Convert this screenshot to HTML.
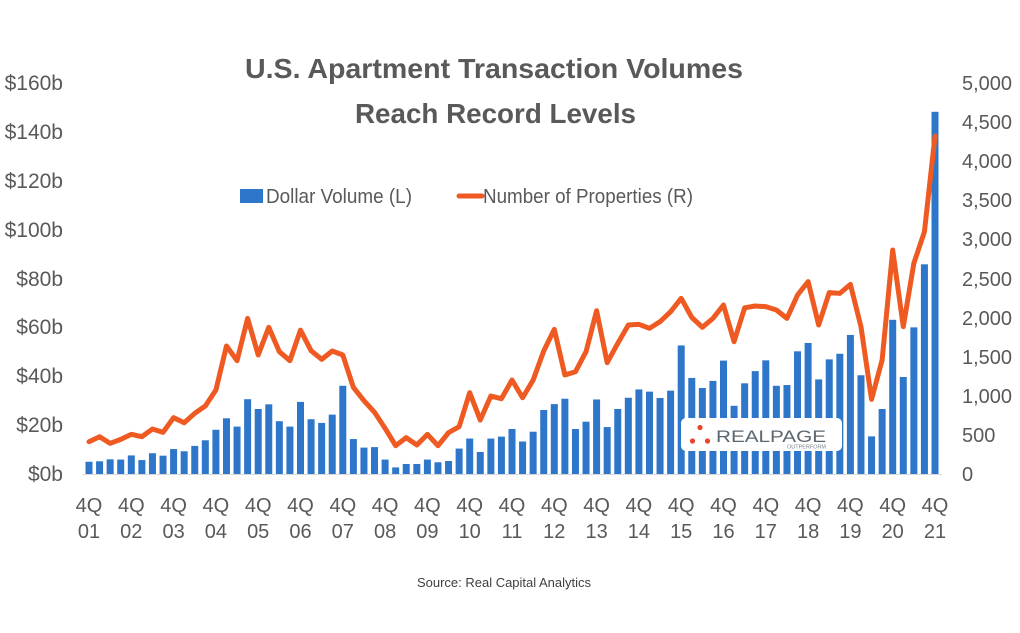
<!DOCTYPE html>
<html>
<head>
<meta charset="utf-8">
<style>
  html,body{margin:0;padding:0;background:#ffffff;}
  svg{display:block;}
  text{font-family:"Liberation Sans", Arial, sans-serif;}
</style>
</head>
<body>
<svg width="1020" height="633" viewBox="0 0 1020 633" xmlns="http://www.w3.org/2000/svg">
  <rect x="0" y="0" width="1020" height="633" fill="#ffffff"/>

  <!-- Title -->
  <text x="494" y="78" text-anchor="middle" font-size="28" font-weight="bold" fill="#595959" textLength="498" lengthAdjust="spacingAndGlyphs">U.S. Apartment Transaction Volumes</text>
  <text x="495.5" y="123" text-anchor="middle" font-size="28" font-weight="bold" fill="#595959" textLength="281" lengthAdjust="spacingAndGlyphs">Reach Record Levels</text>

  <!-- Legend -->
  <rect x="240" y="189" width="23" height="14" fill="#2E76C9"/>
  <text x="266" y="203" font-size="20" fill="#595959" textLength="146" lengthAdjust="spacingAndGlyphs">Dollar Volume (L)</text>
  <line x1="459" y1="196" x2="482" y2="196" stroke="#EE5A22" stroke-width="5" stroke-linecap="round"/>
  <text x="483" y="203" font-size="20" fill="#595959" textLength="210" lengthAdjust="spacingAndGlyphs">Number of Properties (R)</text>

  <!-- Left axis labels -->
  <g font-size="21" fill="#595959" text-anchor="end">
    <text x="63" y="481">$0b</text>
    <text x="63" y="432">$20b</text>
    <text x="63" y="383">$40b</text>
    <text x="63" y="334">$60b</text>
    <text x="63" y="286">$80b</text>
    <text x="63" y="237">$100b</text>
    <text x="63" y="188">$120b</text>
    <text x="63" y="139">$140b</text>
    <text x="63" y="90">$160b</text>
  </g>

  <!-- Right axis labels -->
  <g font-size="20" fill="#595959" text-anchor="start">
    <text x="962" y="481">0</text>
    <text x="962" y="442">500</text>
    <text x="962" y="403">1,000</text>
    <text x="962" y="364">1,500</text>
    <text x="962" y="325">2,000</text>
    <text x="962" y="286">2,500</text>
    <text x="962" y="246">3,000</text>
    <text x="962" y="207">3,500</text>
    <text x="962" y="168">4,000</text>
    <text x="962" y="129">4,500</text>
    <text x="962" y="90">5,000</text>
  </g>

  <!-- Bars -->
  <g transform="translate(89,474) scale(10.575,-2.444)" fill="#2E76C9">
    <rect x="-0.331" y="0" width="0.662" height="5.0"/>
    <rect x="0.669" y="0" width="0.662" height="5.2"/>
    <rect x="1.669" y="0" width="0.662" height="6.0"/>
    <rect x="2.669" y="0" width="0.662" height="5.9"/>
    <rect x="3.669" y="0" width="0.662" height="7.6"/>
    <rect x="4.669" y="0" width="0.662" height="5.7"/>
    <rect x="5.669" y="0" width="0.662" height="8.5"/>
    <rect x="6.669" y="0" width="0.662" height="7.5"/>
    <rect x="7.669" y="0" width="0.662" height="10.2"/>
    <rect x="8.669" y="0" width="0.662" height="9.3"/>
    <rect x="9.669" y="0" width="0.662" height="11.5"/>
    <rect x="10.669" y="0" width="0.662" height="13.8"/>
    <rect x="11.669" y="0" width="0.662" height="18.1"/>
    <rect x="12.669" y="0" width="0.662" height="22.8"/>
    <rect x="13.669" y="0" width="0.662" height="19.4"/>
    <rect x="14.669" y="0" width="0.662" height="30.6"/>
    <rect x="15.669" y="0" width="0.662" height="26.6"/>
    <rect x="16.669" y="0" width="0.662" height="28.5"/>
    <rect x="17.669" y="0" width="0.662" height="21.6"/>
    <rect x="18.669" y="0" width="0.662" height="19.4"/>
    <rect x="19.669" y="0" width="0.662" height="29.5"/>
    <rect x="20.669" y="0" width="0.662" height="22.4"/>
    <rect x="21.669" y="0" width="0.662" height="20.9"/>
    <rect x="22.669" y="0" width="0.662" height="24.3"/>
    <rect x="23.669" y="0" width="0.662" height="36.1"/>
    <rect x="24.669" y="0" width="0.662" height="14.3"/>
    <rect x="25.669" y="0" width="0.662" height="10.8"/>
    <rect x="26.669" y="0" width="0.662" height="11.0"/>
    <rect x="27.669" y="0" width="0.662" height="5.9"/>
    <rect x="28.669" y="0" width="0.662" height="2.7"/>
    <rect x="29.669" y="0" width="0.662" height="4.1"/>
    <rect x="30.669" y="0" width="0.662" height="4.1"/>
    <rect x="31.669" y="0" width="0.662" height="5.9"/>
    <rect x="32.669" y="0" width="0.662" height="4.8"/>
    <rect x="33.669" y="0" width="0.662" height="5.3"/>
    <rect x="34.669" y="0" width="0.662" height="10.4"/>
    <rect x="35.669" y="0" width="0.662" height="14.5"/>
    <rect x="36.669" y="0" width="0.662" height="9.0"/>
    <rect x="37.669" y="0" width="0.662" height="14.5"/>
    <rect x="38.669" y="0" width="0.662" height="15.3"/>
    <rect x="39.669" y="0" width="0.662" height="18.4"/>
    <rect x="40.669" y="0" width="0.662" height="13.3"/>
    <rect x="41.669" y="0" width="0.662" height="17.3"/>
    <rect x="42.669" y="0" width="0.662" height="26.2"/>
    <rect x="43.669" y="0" width="0.662" height="28.6"/>
    <rect x="44.669" y="0" width="0.662" height="30.8"/>
    <rect x="45.669" y="0" width="0.662" height="18.4"/>
    <rect x="46.669" y="0" width="0.662" height="21.4"/>
    <rect x="47.669" y="0" width="0.662" height="30.5"/>
    <rect x="48.669" y="0" width="0.662" height="19.2"/>
    <rect x="49.669" y="0" width="0.662" height="26.6"/>
    <rect x="50.669" y="0" width="0.662" height="31.2"/>
    <rect x="51.669" y="0" width="0.662" height="34.6"/>
    <rect x="52.669" y="0" width="0.662" height="33.7"/>
    <rect x="53.669" y="0" width="0.662" height="31.1"/>
    <rect x="54.669" y="0" width="0.662" height="34.1"/>
    <rect x="55.669" y="0" width="0.662" height="52.6"/>
    <rect x="56.669" y="0" width="0.662" height="39.3"/>
    <rect x="57.669" y="0" width="0.662" height="35.2"/>
    <rect x="58.669" y="0" width="0.662" height="38.1"/>
    <rect x="59.669" y="0" width="0.662" height="46.4"/>
    <rect x="60.669" y="0" width="0.662" height="27.9"/>
    <rect x="61.669" y="0" width="0.662" height="37.1"/>
    <rect x="62.669" y="0" width="0.662" height="42.1"/>
    <rect x="63.669" y="0" width="0.662" height="46.5"/>
    <rect x="64.669" y="0" width="0.662" height="36.1"/>
    <rect x="65.669" y="0" width="0.662" height="36.4"/>
    <rect x="66.669" y="0" width="0.662" height="50.2"/>
    <rect x="67.669" y="0" width="0.662" height="53.6"/>
    <rect x="68.669" y="0" width="0.662" height="38.7"/>
    <rect x="69.669" y="0" width="0.662" height="46.9"/>
    <rect x="70.669" y="0" width="0.662" height="49.2"/>
    <rect x="71.669" y="0" width="0.662" height="56.9"/>
    <rect x="72.669" y="0" width="0.662" height="40.4"/>
    <rect x="73.669" y="0" width="0.662" height="15.4"/>
    <rect x="74.669" y="0" width="0.662" height="26.6"/>
    <rect x="75.669" y="0" width="0.662" height="63.1"/>
    <rect x="76.669" y="0" width="0.662" height="39.7"/>
    <rect x="77.669" y="0" width="0.662" height="60.0"/>
    <rect x="78.669" y="0" width="0.662" height="85.8"/>
    <rect x="79.669" y="0" width="0.662" height="148.2"/>
  </g>

  <!-- Axis baseline -->
  <line x1="83" y1="474.5" x2="942" y2="474.5" stroke="#D9D9D9" stroke-width="1"/>

  <!-- RealPage logo -->
  <rect x="681" y="418" width="161" height="33" rx="5" ry="5" fill="#ffffff"/>
  <circle cx="700" cy="427.5" r="2.6" fill="#E8452C"/>
  <circle cx="692.5" cy="441" r="2.6" fill="#E8452C"/>
  <circle cx="707.5" cy="441" r="2.6" fill="#E8452C"/>
  <text x="716" y="442" font-size="17" fill="#5B6770" textLength="110" lengthAdjust="spacingAndGlyphs">REALPAGE</text>
  <text x="787" y="448.5" font-size="5" fill="#7A858D" textLength="39" lengthAdjust="spacingAndGlyphs">OUTPERFORM</text>

  <!-- Line -->
  <g transform="translate(89,474) scale(10.575,-0.0782)">
    <polyline fill="none" stroke="#EE5A22" stroke-width="5" stroke-linejoin="round" stroke-linecap="round" vector-effect="non-scaling-stroke"
      points="0,413 1,477 2,392 3,443 4,507 5,477 6,575 7,533 8,720 9,656 10,776 11,870 12,1074 13,1637 14,1449 15,1990 16,1522 17,1876 18,1564 19,1449 20,1840 21,1577 22,1466 23,1573 24,1522 25,1108 26,938 27,789 28,584 29,362 30,465 31,371 32,507 33,362 34,529 35,605 36,1040 37,690 38,997 39,963 40,1202 41,975 42,1202 43,1573 44,1850 45,1266 46,1308 47,1564 48,2088 49,1424 50,1671 51,1905 52,1914 53,1863 54,1948 55,2076 56,2246 57,2003 58,1876 59,1990 60,2161 61,1692 62,2125 63,2148 64,2140 65,2097 66,1990 67,2289 68,2460 69,1905 70,2319 71,2310 72,2425 73,1884 74,955 75,1458 76,2864 77,1884 78,2694 79,3098 80,4322"/>
  </g>

  <!-- X axis labels -->
  <g font-size="20" fill="#595959" text-anchor="middle">
    <text x="89" y="512">4Q</text><text x="89" y="538">01</text>
    <text x="131.3" y="512">4Q</text><text x="131.3" y="538">02</text>
    <text x="173.6" y="512">4Q</text><text x="173.6" y="538">03</text>
    <text x="215.9" y="512">4Q</text><text x="215.9" y="538">04</text>
    <text x="258.2" y="512">4Q</text><text x="258.2" y="538">05</text>
    <text x="300.5" y="512">4Q</text><text x="300.5" y="538">06</text>
    <text x="342.8" y="512">4Q</text><text x="342.8" y="538">07</text>
    <text x="385.1" y="512">4Q</text><text x="385.1" y="538">08</text>
    <text x="427.4" y="512">4Q</text><text x="427.4" y="538">09</text>
    <text x="469.7" y="512">4Q</text><text x="469.7" y="538">10</text>
    <text x="512" y="512">4Q</text><text x="512" y="538">11</text>
    <text x="554.3" y="512">4Q</text><text x="554.3" y="538">12</text>
    <text x="596.6" y="512">4Q</text><text x="596.6" y="538">13</text>
    <text x="638.9" y="512">4Q</text><text x="638.9" y="538">14</text>
    <text x="681.2" y="512">4Q</text><text x="681.2" y="538">15</text>
    <text x="723.5" y="512">4Q</text><text x="723.5" y="538">16</text>
    <text x="765.8" y="512">4Q</text><text x="765.8" y="538">17</text>
    <text x="808.1" y="512">4Q</text><text x="808.1" y="538">18</text>
    <text x="850.4" y="512">4Q</text><text x="850.4" y="538">19</text>
    <text x="892.7" y="512">4Q</text><text x="892.7" y="538">20</text>
    <text x="935" y="512">4Q</text><text x="935" y="538">21</text>
  </g>

  <!-- Source -->
  <text x="417" y="587" font-size="13" fill="#404040" textLength="174" lengthAdjust="spacingAndGlyphs">Source: Real Capital Analytics</text>
</svg>
</body>
</html>
